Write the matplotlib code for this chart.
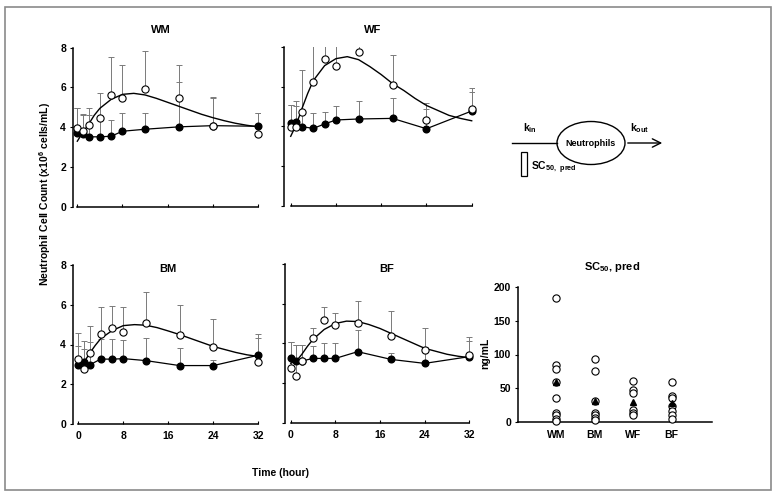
import matplotlib
matplotlib.use("Agg")
import matplotlib.pyplot as plt
from matplotlib.patches import Ellipse, Rectangle, FancyArrowPatch

plt.rcParams["font.family"] = ["Liberation Sans", "DejaVu Sans"]
plt.rcParams["font.weight"] = "bold"
plt.rcParams["mathtext.default"] = "regular"

W, H = 776, 496

# sampling times (hour)
times = [0, 1, 2, 4, 6, 8, 12, 18, 24, 32]

# open circles (prednisolone) / filled circles (control), mean and upper SD
wm_pred = [3.97, 3.80, 4.12, 4.48, 5.60, 5.45, 5.90, 5.45, 4.05, 3.65]
wm_pred_sd = [1.00, 0.80, 0.85, 1.22, 1.90, 1.65, 1.90, 1.65, 1.45, 1.05]
wm_ctrl = [3.72, 3.64, 3.52, 3.52, 3.55, 3.80, 3.90, 4.02, 4.08, 4.05]
wm_ctrl_sd = [1.25, 1.00, 1.10, 0.90, 0.80, 0.90, 0.80, 2.25, 1.37, 0.65]

wf_pred = [3.98, 3.98, 4.74, 6.24, 7.38, 7.05, 7.72, 6.10, 4.32, 4.85]
wf_pred_sd = [1.10, 1.30, 2.10, 2.50, 2.00, 2.30, 0.70, 1.50, 0.85, 1.10]
wf_ctrl = [4.15, 4.20, 3.98, 3.90, 4.12, 4.32, 4.37, 4.40, 3.88, 4.77]
wf_ctrl_sd = [0.92, 0.80, 0.67, 0.75, 0.62, 0.68, 0.90, 1.04, 0.99, 0.97]

bm_pred = [3.26, 2.75, 3.59, 4.51, 4.82, 4.65, 5.07, 4.48, 3.86, 3.10]
bm_pred_sd = [1.34, 1.43, 1.34, 1.39, 1.12, 1.25, 1.56, 1.51, 1.43, 1.41]
bm_ctrl = [2.97, 3.14, 2.97, 3.27, 3.26, 3.29, 3.19, 2.94, 2.94, 3.46]
bm_ctrl_sd = [0.96, 0.62, 1.17, 0.99, 1.02, 0.94, 1.16, 0.90, 0.30, 0.85]

bf_pred = [2.74, 2.35, 3.10, 4.25, 5.18, 4.92, 5.04, 4.39, 3.66, 3.41]
bf_pred_sd = [1.34, 1.55, 0.80, 0.51, 0.67, 0.59, 1.09, 1.24, 1.13, 0.89]
bf_ctrl = [3.28, 3.11, 3.11, 3.24, 3.24, 3.24, 3.58, 3.19, 2.99, 3.33]
bf_ctrl_sd = [0.80, 0.81, 0.81, 0.63, 0.76, 0.79, 1.09, 0.30, 0.84, 0.80]

# model fitted curves
fit_t = [0, 1, 2, 3, 4, 6, 8, 10, 12, 14, 16, 18, 20, 22, 24, 26, 28, 30, 32]
wm_fit = [3.30, 3.75, 4.15, 4.60, 4.95, 5.40, 5.65, 5.70, 5.62, 5.45, 5.25,
          5.05, 4.85, 4.65, 4.48, 4.33, 4.20, 4.10, 4.02]
wf_fit = [3.50, 4.10, 4.90, 5.65, 6.30, 7.05, 7.40, 7.50, 7.35, 7.00, 6.60,
          6.15, 5.80, 5.40, 5.05, 4.80, 4.55, 4.40, 4.28]
bm_fit = [2.85, 3.10, 3.55, 3.95, 4.30, 4.70, 4.95, 5.00, 4.97, 4.85, 4.68,
          4.50, 4.30, 4.10, 3.90, 3.75, 3.60, 3.48, 3.40]
bf_fit = [3.00, 3.10, 3.45, 3.85, 4.20, 4.70, 5.00, 5.12, 5.10, 4.95, 4.75,
          4.50, 4.25, 4.00, 3.75, 3.60, 3.45, 3.35, 3.28]

# SC50,pred individual estimates (ng/mL) and group means
sc_groups = ["WM", "BM", "WF", "BF"]
sc_wm = [184, 85, 79, 60, 35, 14, 10, 5, 2]
sc_bm = [93, 75, 31, 14, 10, 6, 3]
sc_wf = [61, 48, 43, 18, 13, 10]
sc_bf = [59, 39, 36, 23, 16, 10, 5]
sc_means = [60, 31, 30, 28]

fig = plt.figure(figsize=(W / 100, H / 100), dpi=100)

# full-figure pixel overlay for frame and diagram
ov = fig.add_axes([0, 0, 1, 1])
ov.set_xlim(0, W)
ov.set_ylim(H, 0)
ov.axis("off")
ov.add_patch(Rectangle((5, 7), 766, 483, fill=False, edgecolor="#8a8a8a", lw=1.2))


def time_panel(xs, x0, x1, ytop, ybot, pred, pred_sd, ctrl, ctrl_sd, fit,
               ylabels, xlabels):
    s = (x1 - x0) / 32.0
    xl = -(x0 - xs) / s
    xr = 32.4
    ax = fig.add_axes([xs / W, 1 - ybot / H, (xr - xl) * s / W, (ybot - ytop) / H])
    ax.set_xlim(xl, xr)
    ax.set_ylim(0, 8)
    for sp in ["top", "right"]:
        ax.spines[sp].set_visible(False)
    ax.spines["left"].set_linewidth(1.1)
    ax.spines["bottom"].set_linewidth(1.1)
    ax.spines["bottom"].set_bounds(0, 32)

    zeros = [0] * len(times)
    ax.errorbar(times, pred, yerr=[zeros, pred_sd], fmt="none", ecolor="#7a7a7a",
                elinewidth=0.7, capsize=2.2, capthick=0.7, zorder=2)
    ax.errorbar(times, ctrl, yerr=[zeros, ctrl_sd], fmt="none", ecolor="#7a7a7a",
                elinewidth=0.7, capsize=2.2, capthick=0.7, zorder=2)
    ax.plot(fit_t, fit, color="black", lw=1.0, zorder=3)
    ax.plot(times, ctrl, color="black", lw=0.9, marker="o", ms=4.8,
            mfc="black", mec="black", zorder=4, clip_on=False)
    ax.plot(times, pred, ls="none", marker="o", ms=5.2, mfc="white",
            mec="black", mew=0.8, zorder=5, clip_on=False)

    ax.set_yticks([0, 2, 4, 6, 8])
    ax.set_xticks([0, 8, 16, 24, 32])
    ax.tick_params(axis="y", direction="out", length=2, width=0.8, pad=3,
                   labelsize=7.5, labelleft=ylabels)
    ax.tick_params(axis="x", direction="in", length=2, width=0.8, pad=5,
                   labelsize=7.5, labelbottom=xlabels)
    for lab in ax.get_xticklabels() + ax.get_yticklabels():
        lab.set_fontweight("bold")
    return ax


time_panel(73, 77.3, 258, 47.5, 207, wm_pred, wm_pred_sd, wm_ctrl, wm_ctrl_sd,
           wm_fit, True, False)
time_panel(284, 290.7, 471.7, 46.7, 206, wf_pred, wf_pred_sd, wf_ctrl, wf_ctrl_sd,
           wf_fit, False, False)
time_panel(73, 78.3, 258.3, 265, 424, bm_pred, bm_pred_sd, bm_ctrl, bm_ctrl_sd,
           bm_fit, True, True)
time_panel(285, 290.7, 469.3, 264, 422.7, bf_pred, bf_pred_sd, bf_ctrl, bf_ctrl_sd,
           bf_fit, False, True)

# panel titles
for name, px, py in [("WM", 161, 30), ("WF", 373, 30), ("BM", 168, 269), ("BF", 387, 269)]:
    fig.text(px / W, 1 - py / H, name, ha="center", va="center",
             fontsize=8, fontweight="bold")

fig.text(45 / W, 1 - 194 / H, "Neutrophil Cell Count (x10$^6$ cells/mL)",
         rotation=90, ha="center", va="center", fontsize=7.5, fontweight="bold")
fig.text(281 / W, 1 - 473 / H, "Time (hour)", ha="center", va="center",
         fontsize=7.5, fontweight="bold")

# SC50,pred scatter panel
sc = fig.add_axes([518 / W, 1 - 422 / H, (712 - 518) / W, (422 - 287) / H])
sc.set_xlim(0, 5.05)
sc.set_ylim(0, 200)
for sp in ["top", "right"]:
    sc.spines[sp].set_visible(False)
sc.spines["left"].set_linewidth(1.1)
sc.spines["bottom"].set_linewidth(1.1)
for i, vals in enumerate([sc_wm, sc_bm, sc_wf, sc_bf]):
    sc.plot([i + 1] * len(vals), vals, ls="none", marker="o", ms=5.2,
            mfc="white", mec="black", mew=0.8, clip_on=False, zorder=3)
sc.plot([1, 2, 3, 4], sc_means, ls="none", marker="^", ms=4.5, mfc="black",
        mec="black", zorder=4)
sc.set_yticks([0, 50, 100, 150, 200])
sc.set_xticks([1, 2, 3, 4])
sc.set_xticklabels(sc_groups)
sc.tick_params(axis="y", direction="out", length=2, width=0.8, pad=3, labelsize=7.5)
sc.tick_params(axis="x", length=0, pad=6, labelsize=7.5)
for lab in sc.get_xticklabels() + sc.get_yticklabels():
    lab.set_fontweight("bold")
fig.text(485 / W, 1 - 353 / H, "ng/mL", rotation=90, ha="center", va="center",
         fontsize=7.5, fontweight="bold")
fig.text(612 / W, 1 - 267 / H, "SC$_{50}$, pred", ha="center", va="center",
         fontsize=8, fontweight="bold")

# indirect response diagram
ov.plot([512, 557], [143, 143], color="black", lw=1.0)
ov.add_patch(Ellipse((591, 143), 68, 43, fill=False, edgecolor="black", lw=1.0))
ov.add_patch(FancyArrowPatch((625, 143), (665, 143), arrowstyle="->,head_length=6,head_width=3",
                             color="black", lw=1.0))
ov.add_patch(Rectangle((521, 152), 6, 24, fill=False, edgecolor="black", lw=0.9))
ov.text(591, 144, "Neutrophils", ha="center", va="center", fontsize=6.5, fontweight="bold")
ov.text(530, 128, "k$_{in}$", ha="center", va="center", fontsize=7.5, fontweight="bold")
ov.text(640, 128, "k$_{out}$", ha="center", va="center", fontsize=7.5, fontweight="bold")
ov.text(531, 168, "SC$_{50,\\ pred}$", ha="left", va="center", fontsize=7.5, fontweight="bold")

fig.savefig("out.png", dpi=100)
